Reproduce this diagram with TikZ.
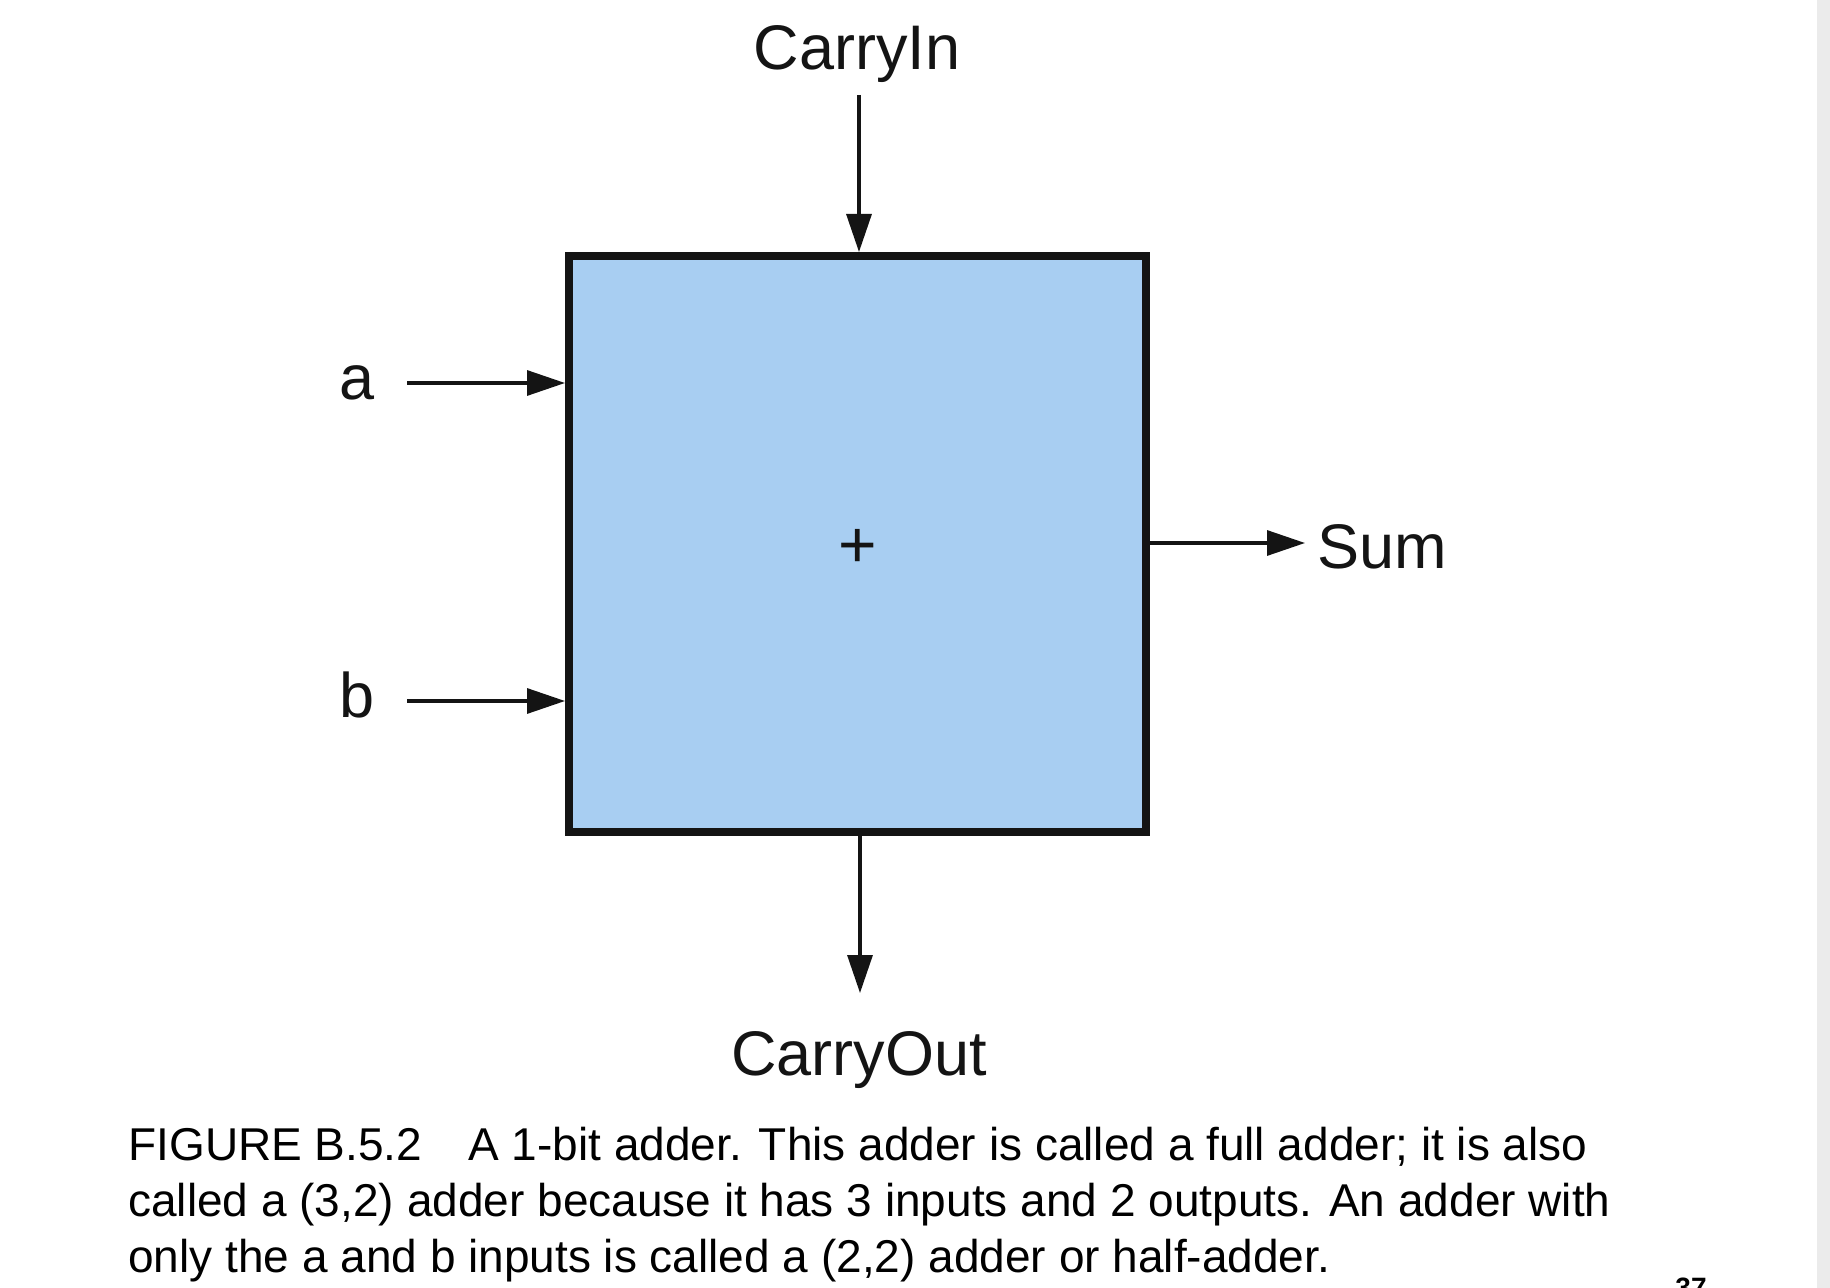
\documentclass[tikz,border=0pt]{standalone}
\usepackage{fontspec}
\setmainfont{Liberation Sans}
\usetikzlibrary{arrows.meta}
\definecolor{boxblue}{RGB}{168,206,242}
\definecolor{ink}{RGB}{20,20,20}
\definecolor{stripgray}{RGB}{235,235,235}
\begin{document}
\begin{tikzpicture}[x=0.5pt,y=-0.5pt,
  lbl/.style={inner sep=0pt, font=\fontsize{31.5}{36}\selectfont, text=ink},
  captxt/.style={inner sep=0pt, anchor=base west, font=\fontsize{23}{23}\selectfont, text=black},
  arr/.style={draw=ink, line width=1.6pt, -{Triangle[length=19pt,width=12.5pt]}},
  adder/.style={draw=ink, fill=boxblue, line width=4pt, minimum width=288.5pt, minimum height=288pt, inner sep=0pt}]
\useasboundingbox (0,0) rectangle (1830,1288);
\clip (0,0) rectangle (1830,1288);
\fill[white] (0,0) rectangle (1830,1288);
\fill[stripgray] (1817,0) rectangle (1830,1288);

\node[adder] (box) at (857.5,544) {};
\node[lbl, font=\fontsize{33}{36}\selectfont] (plus) at ([yshift=-2pt]box.center) {+};

\node[lbl, anchor=base] (cin) at (857,70) {CarryIn};
\node[lbl, anchor=base] (a) at (357.5,400) {a};
\node[lbl, anchor=base] (b) at (357.5,717) {b};
\node[lbl, anchor=base west] (sum) at (1317,568) {Sum};
\node[lbl, anchor=base] (cout) at (859,1075) {CarryOut};

\coordinate (cinS) at (859,95);
\coordinate (aS) at (407,383);
\coordinate (bS) at (407,701);
\coordinate (sumE) at (1305,543);
\coordinate (coutE) at (860,993);

\draw[arr] (cinS) -- (cinS |- box.north);
\draw[arr] (aS) -- (aS -| box.west);
\draw[arr] (bS) -- (bS -| box.west);
\draw[arr] (box.east |- sumE) -- (sumE);
\draw[arr] (coutE |- box.south) -- (coutE);

\node[captxt] (cap1) at (128,1160) {FIGURE B.5.2\quad A 1-bit adder. This adder is called a full adder; it is also};
\node[captxt] (cap2) at (128,1216) {called a (3,2) adder because it has 3 inputs and 2 outputs. An adder with};
\node[captxt] (cap3) at (128,1272) {only the a and b inputs is called a (2,2) adder or half-adder.};

\node[inner sep=0pt, anchor=base, font=\fontsize{14}{14}\selectfont\bfseries] (pg) at (1691,1297) {37};
\end{tikzpicture}
\end{document}
